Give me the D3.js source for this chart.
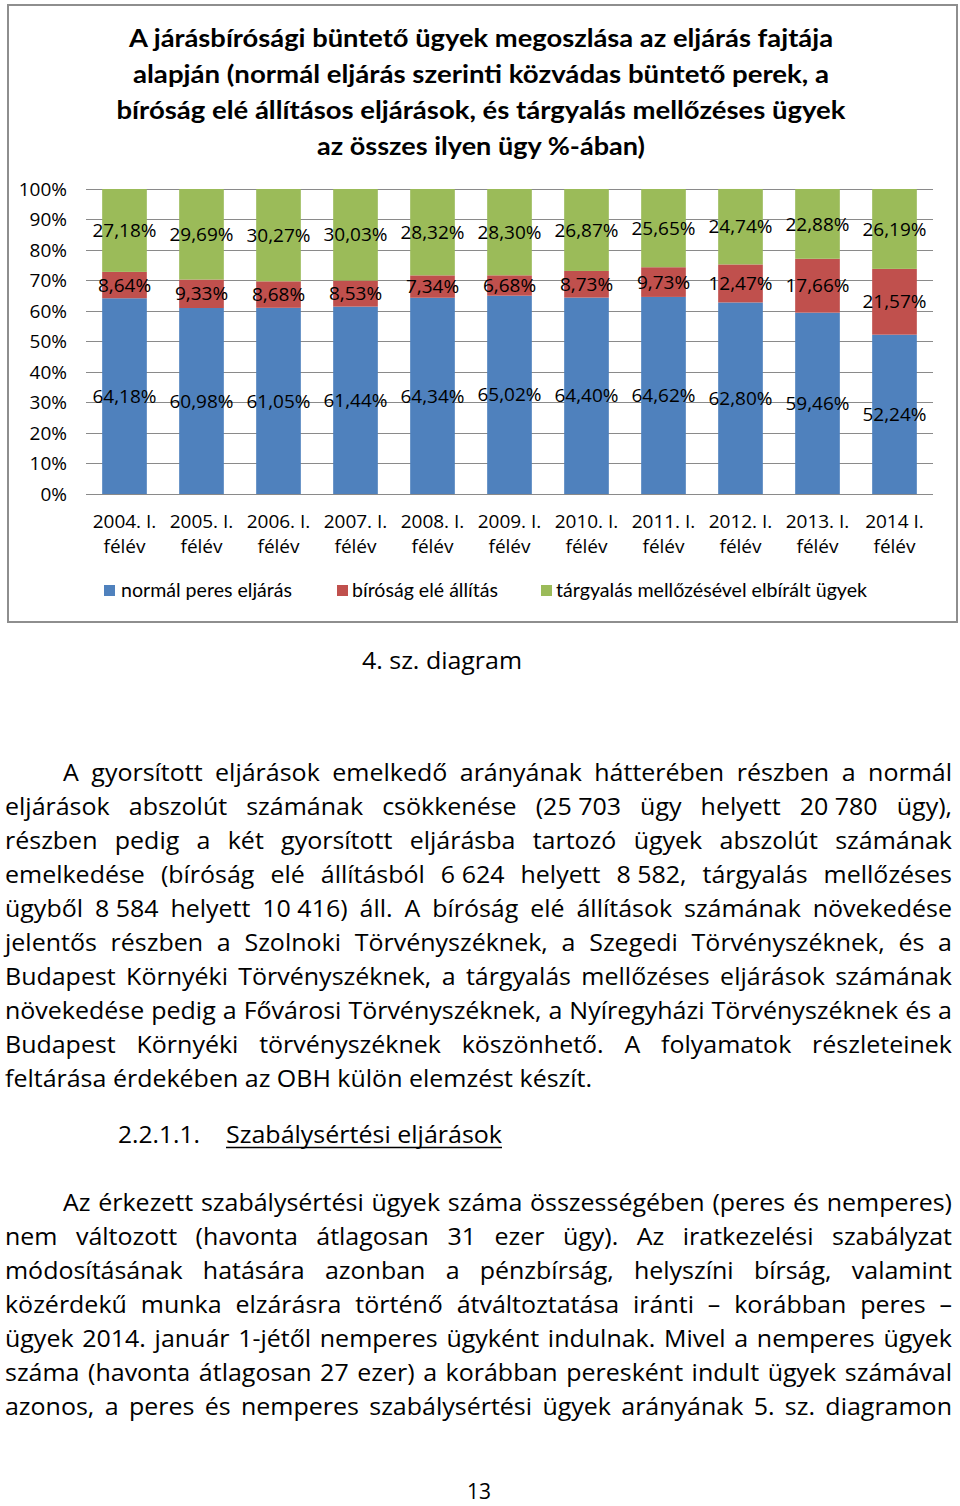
<!DOCTYPE html>
<html><head><meta charset="utf-8">
<script src="https://cdn.jsdelivr.net/npm/d3@7"></script>
<style>html,body{margin:0;padding:0;background:#fff;}svg{display:block;}</style>
</head><body>
<script>
// ---------- DATA ----------
const categories = ["2004. I. félév","2005. I. félév","2006. I. félév","2007. I. félév","2008. I. félév","2009. I. félév","2010. I. félév","2011. I. félév","2012. I. félév","2013. I. félév","2014 I. félév"];
const seriesNames = ["normál peres eljárás","bíróság elé állítás","tárgyalás mellőzésével elbírált ügyek"];
const normal = [64.18,60.98,61.05,61.44,64.34,65.02,64.40,64.62,62.80,59.46,52.24];
const birosag = [8.64,9.33,8.68,8.53,7.34,6.68,8.73,9.73,12.47,17.66,21.57];
const targyalas = [27.18,29.69,30.27,30.03,28.32,28.30,26.87,25.65,24.74,22.88,26.19];
const yTicks = [0,10,20,30,40,50,60,70,80,90,100];
const colors = ["#4F81BD","#C0504D","#9BBB59"];
const titleLines = ["A járásbírósági büntető ügyek megoszlása az eljárás fajtája","alapján (normál eljárás szerinti közvádas büntető perek, a","bíróság elé állításos eljárások, és tárgyalás mellőzéses ügyek","az összes ilyen ügy %-ában)"];
const caption = "4. sz. diagram";
const para1 = ["A gyorsított eljárások emelkedő arányának hátterében részben a normál",
"eljárások abszolút számának csökkenése (25\u00a0703 ügy helyett 20\u00a0780 ügy),",
"részben pedig a két gyorsított eljárásba tartozó ügyek abszolút számának",
"emelkedése (bíróság elé állításból 6\u00a0624 helyett 8\u00a0582, tárgyalás mellőzéses",
"ügyből 8\u00a0584 helyett 10\u00a0416) áll. A bíróság elé állítások számának növekedése",
"jelentős részben a Szolnoki Törvényszéknek, a Szegedi Törvényszéknek, és a",
"Budapest Környéki Törvényszéknek, a tárgyalás mellőzéses eljárások számának",
"növekedése pedig a Fővárosi Törvényszéknek, a Nyíregyházi Törvényszéknek és a",
"Budapest Környéki törvényszéknek köszönhető. A folyamatok részleteinek",
"feltárása érdekében az OBH külön elemzést készít."];
const headingNum = "2.2.1.1.";
const headingText = "Szabálysértési eljárások";
const para2 = ["Az érkezett szabálysértési ügyek száma összességében (peres és nemperes)",
"nem változott (havonta átlagosan 31 ezer ügy). Az iratkezelési szabályzat",
"módosításának hatására azonban a pénzbírság, helyszíni bírság, valamint",
"közérdekű munka elzárásra történő átváltoztatása iránti – korábban peres –",
"ügyek 2014. január 1-jétől nemperes ügyként indulnak. Mivel a nemperes ügyek",
"száma (havonta átlagosan 27 ezer) a korábban peresként indult ügyek számával",
"azonos, a peres és nemperes szabálysértési ügyek arányának 5. sz. diagramon"];
const pageNumber = "13";

// ---------- SETUP ----------
const W = 960, H = 1506;
const svg = d3.select("body").append("svg").attr("width", W).attr("height", H);
svg.append("rect").attr("width", W).attr("height", H).attr("fill", "#fff");

// chart frame
svg.append("rect").attr("x", 8).attr("y", 5).attr("width", 949).attr("height", 617)
  .attr("fill", "#fff").attr("stroke", "#8e8e8e").attr("stroke-width", 2);

// title
const titleWidths = [704, 696, 729, 328];
titleLines.forEach((t, i) => {
  svg.append("text").attr("x", 481).attr("y", 47 + i * 36)
    .attr("text-anchor", "middle").attr("font-family", "Lato, 'Open Sans', sans-serif")
    .attr("font-weight", 700).attr("font-size", 25).attr("fill", "#000")
    .attr("textLength", titleWidths[i]).attr("lengthAdjust", "spacingAndGlyphs")
    .text(t);
});

// scales
const x = d3.scaleBand().domain(categories).range([86, 933]).paddingInner(0.42).paddingOuter(0.21);
const y = d3.scaleLinear().domain([0, 100]).range([494, 189]);

// gridlines
svg.append("g").selectAll("line").data(yTicks).join("line")
  .attr("x1", 86).attr("x2", 933).attr("y1", d => y(d)).attr("y2", d => y(d))
  .attr("stroke", "#8a8a8a").attr("stroke-width", 1).attr("shape-rendering", "crispEdges");

// y axis labels
const yAxis = d3.axisLeft(y).tickValues(yTicks).tickFormat(d => d + "%").tickSize(0).tickPadding(0);
const gy = svg.append("g").attr("transform", "translate(67,0)").call(yAxis);
gy.select(".domain").remove();
gy.selectAll("text").attr("font-family", "'Open Sans', sans-serif").attr("font-size", 19).attr("fill", "#000").attr("dy", "0.34em");

// stacked bars
const rows = categories.map((c, i) => ({cat: c, s0: normal[i], s1: birosag[i], s2: targyalas[i]}));
const stack = d3.stack().keys(["s0", "s1", "s2"])(rows);
stack.forEach((layer, k) => {
  svg.append("g").selectAll("rect").data(layer).join("rect")
    .attr("x", d => x(d.data.cat)).attr("width", x.bandwidth())
    .attr("y", d => y(d[1])).attr("height", d => y(d[0]) - y(d[1]))
    .attr("fill", colors[k]);
});
// data labels
const fmt = v => v.toFixed(2).replace(".", ",") + "%";
stack.forEach((layer, k) => {
  svg.append("g").selectAll("text").data(layer).join("text")
    .attr("x", d => x(d.data.cat) + x.bandwidth() / 2)
    .attr("y", d => y((d[0] + d[1]) / 2)).attr("dy", "0.35em")
    .attr("text-anchor", "middle").attr("font-family", "'Open Sans', sans-serif")
    .attr("font-size", 19).attr("fill", "#000")
    .text(d => fmt(d[1] - d[0]));
});

// x labels
const gx = svg.append("g");
categories.forEach(c => {
  const idx = c.lastIndexOf(" ");
  const l1 = c.slice(0, idx), l2 = c.slice(idx + 1);
  const t = gx.append("text").attr("text-anchor", "middle")
    .attr("font-family", "'Open Sans', sans-serif").attr("font-size", 19).attr("fill", "#000");
  t.append("tspan").attr("x", x(c) + x.bandwidth() / 2).attr("y", 528).text(l1);
  t.append("tspan").attr("x", x(c) + x.bandwidth() / 2).attr("y", 553).text(l2);
});

// legend
const legSq = [104, 337, 541], legTx = [121, 352, 556], legW = [171, 146, 311];
seriesNames.forEach((n, i) => {
  svg.append("rect").attr("x", legSq[i]).attr("y", 585).attr("width", 11).attr("height", 11).attr("fill", colors[i]);
  svg.append("text").attr("x", legTx[i]).attr("y", 597)
    .attr("font-family", "Lato, 'Open Sans', sans-serif").attr("font-size", 19).attr("fill", "#000")
    .attr("textLength", legW[i]).attr("lengthAdjust", "spacingAndGlyphs").text(n);
});

// ---------- PAGE TEXT ----------
const FF = "'Open Sans', sans-serif", FS = 23.5;
const measurer = svg.append("text").attr("font-family", FF).attr("font-size", FS).attr("x", -1000).attr("y", -1000);
function tw(s) { measurer.text(s); return measurer.node().getComputedTextLength(); }
const spaceW = tw("a a") - tw("aa");
// horizontal compression from a known natural line
const c = Math.min(1.2, Math.max(0.8, 587 / tw(para1[para1.length - 1])));

function drawLine(str, x0, x1, baseline, justify) {
  const words = str.split(" ");
  const widths = words.map(w => tw(w) * c);
  const sumW = d3.sum(widths);
  let gap = spaceW * c;
  if (justify && words.length > 1) gap = (x1 - x0 - sumW) / (words.length - 1);
  const g = svg.append("g").attr("transform", `translate(0,${baseline}) scale(${c},1)`);
  let xp = x0;
  words.forEach((w, i) => {
    g.append("text").attr("x", xp / c).attr("y", 0).attr("font-family", FF).attr("font-size", FS)
      .attr("fill", "#000").text(w);
    xp += widths[i] + gap;
  });
}
function drawPara(lines, startBaseline, lastJustified) {
  lines.forEach((l, i) => {
    const isLast = i === lines.length - 1;
    drawLine(l, i === 0 ? 63 : 5, 952, startBaseline + i * 34, !isLast || lastJustified);
  });
}

// caption
svg.append("text").attr("x", 442).attr("y", 669).attr("text-anchor", "middle")
  .attr("font-family", FF).attr("font-size", 23.5).attr("fill", "#000")
  .attr("textLength", 160).attr("lengthAdjust", "spacingAndGlyphs").text(caption);

drawPara(para1, 781, false);

// heading
svg.append("text").attr("x", 118).attr("y", 1143).attr("font-family", FF).attr("font-size", FS)
  .attr("fill", "#000").attr("textLength", 82).attr("lengthAdjust", "spacingAndGlyphs").text(headingNum);
svg.append("text").attr("x", 226).attr("y", 1143).attr("font-family", FF).attr("font-size", FS)
  .attr("fill", "#000").attr("textLength", 276).attr("lengthAdjust", "spacingAndGlyphs").text(headingText);
svg.append("line").attr("x1", 226).attr("x2", 502).attr("y1", 1147.5).attr("y2", 1147.5)
  .attr("stroke", "#000").attr("stroke-width", 1.3);

drawPara(para2, 1211, true);

// page number
svg.append("text").attr("x", 479).attr("y", 1499).attr("text-anchor", "middle")
  .attr("font-family", FF).attr("font-size", 21).attr("fill", "#000").text(pageNumber);

measurer.remove();
</script>
</body></html>
